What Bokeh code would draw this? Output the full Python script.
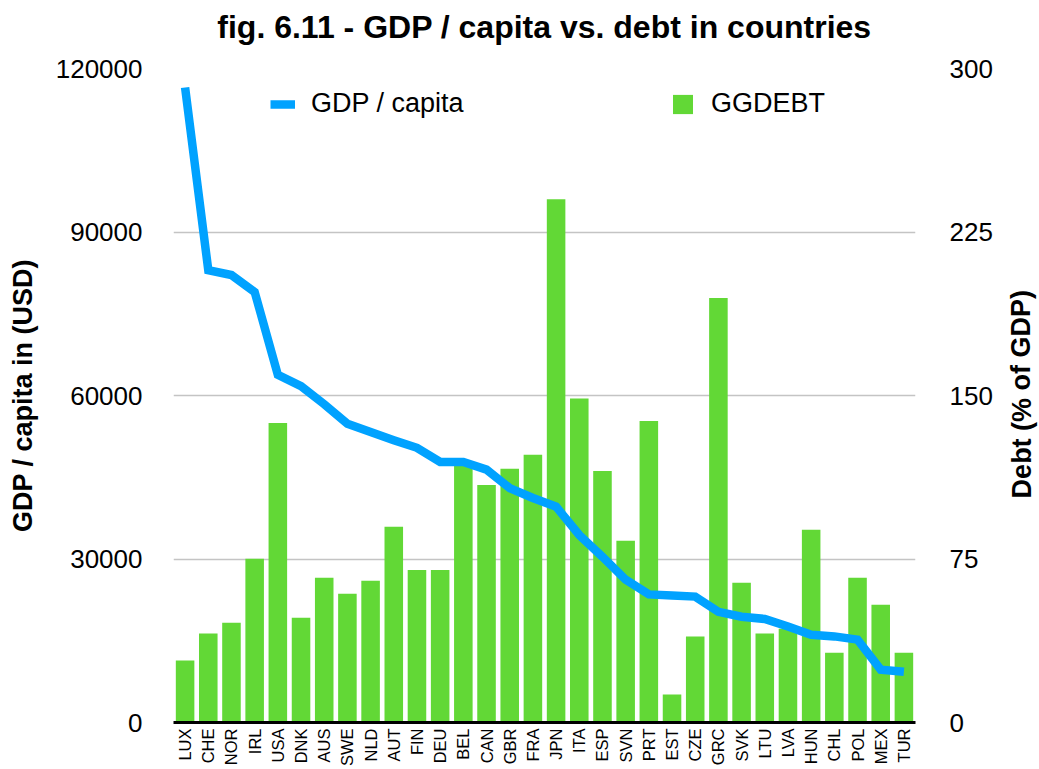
from bokeh.plotting import figure
from bokeh.models import (Range1d, LinearAxis, FixedTicker, Legend, LegendItem,
                          ColumnDataSource, FactorRange, BasicTickFormatter, Label)
from bokeh.layouts import column, row
from bokeh.embed import file_html
from bokeh.resources import INLINE

countries = ["LUX", "CHE", "NOR", "IRL", "USA", "DNK", "AUS", "SWE", "NLD", "AUT",
             "FIN", "DEU", "BEL", "CAN", "GBR", "FRA", "JPN", "ITA", "ESP", "SVN",
             "PRT", "EST", "CZE", "GRC", "SVK", "LTU", "LVA", "HUN", "CHL", "POL",
             "MEX", "TUR"]
gdp_per_capita = [116500, 83000, 82100, 79000, 63800, 61700, 58400, 54800, 53300, 51800,
                  50400, 47800, 47800, 46400, 43000, 41200, 39600, 34400, 30400, 26200,
                  23500, 23300, 23100, 20300, 19400, 19000, 17600, 16100, 15800, 15200,
                  9700, 9300]
debt = [28.4, 40.8, 45.8, 75.1, 137.4, 48.1, 66.4, 59.1, 65.0, 89.8,
        70.0, 70.0, 118.0, 109.0, 116.4, 122.8, 240.0, 148.6, 115.4, 83.4,
        138.3, 12.8, 39.4, 194.7, 64.1, 40.8, 43.0, 88.4, 32.0, 66.4,
        54.0, 32.0]
left_ticks = [0, 30000, 60000, 90000, 120000]
right_ticks = [0, 75, 150, 225, 300]
title_text = "fig. 6.11 - GDP / capita vs. debt in countries"
left_label = "GDP / capita in (USD)"
right_label = "Debt (% of GDP)"

FONT = "Liberation Sans"
GREEN = "#62d836"
BLUE = "#00a2ff"

W, H = 1039, 769
HEADER_H = 46
SIDE_W = 40

src = ColumnDataSource(dict(country=countries, gdp=gdp_per_capita, debt=debt))


def blank_fig(w, h):
    f = figure(width=w, height=h, x_range=Range1d(0, w), y_range=Range1d(0, h),
               output_backend="svg", toolbar_location=None,
               x_axis_location=None, y_axis_location=None,
               min_border=0, min_border_left=0, min_border_right=0,
               min_border_top=0, min_border_bottom=0)
    f.outline_line_color = None
    f.xgrid.grid_line_color = None
    f.ygrid.grid_line_color = None
    f.title = None
    return f


# ---- header with the chart title
header = blank_fig(W, HEADER_H)
header.add_layout(Label(x=544, y=20, text=title_text,
                        text_align="center", text_baseline="alphabetic",
                        text_font=FONT, text_font_style="bold", text_font_size="32px",
                        text_color="black"))

# ---- main chart
MAIN_H = H - HEADER_H
p = figure(width=W - SIDE_W, height=MAIN_H,
           x_range=FactorRange(*countries, range_padding=0),
           y_range=Range1d(0, 120000), output_backend="svg", toolbar_location=None,
           min_border_left=173, min_border_right=(W - SIDE_W) - 915,
           min_border_top=68 - HEADER_H, min_border_bottom=46)
p.title = None
p.extra_y_ranges = {"debt": Range1d(0, 300)}
p.outline_line_color = None
p.background_fill_color = "white"
p.border_fill_color = "white"

bars = p.vbar(x="country", top="debt", width=0.8, source=src, y_range_name="debt",
              fill_color=GREEN, line_color=None)
line = p.line(x="country", y="gdp", source=src, line_color=BLUE, line_width=8.5,
              line_join="miter")

p.xgrid.grid_line_color = None
p.ygrid.ticker = FixedTicker(ticks=left_ticks)
p.ygrid.grid_line_color = "#c4c4c4"
p.ygrid.grid_line_width = 1.3

ya = p.yaxis[0]
ya.ticker = FixedTicker(ticks=left_ticks)
ya.formatter = BasicTickFormatter(use_scientific=False)
ya.axis_line_color = None
ya.major_tick_line_color = None
ya.minor_tick_line_color = None
ya.major_label_standoff = 25
ya.major_label_text_font = FONT
ya.major_label_text_font_size = "26px"
ya.major_label_text_color = "black"
ya.axis_label = left_label
ya.axis_label_text_font = FONT
ya.axis_label_text_font_style = "bold"
ya.axis_label_text_font_size = "27px"
ya.axis_label_text_color = "black"
ya.axis_label_standoff = 15

ra = LinearAxis(y_range_name="debt", ticker=FixedTicker(ticks=right_ticks))
ra.axis_line_color = None
ra.major_tick_line_color = None
ra.minor_tick_line_color = None
ra.major_label_standoff = 28
ra.major_label_text_font = FONT
ra.major_label_text_font_size = "26px"
ra.major_label_text_color = "black"
p.add_layout(ra, "right")

xa = p.xaxis[0]
xa.axis_line_color = "black"
xa.axis_line_width = 3
xa.major_tick_line_color = None
xa.minor_tick_line_color = None
xa.major_label_orientation = 1.5708
xa.major_label_standoff = 0
xa.major_label_text_font = FONT
xa.major_label_text_font_size = "16.5px"
xa.major_label_text_color = "black"

legend = Legend(items=[LegendItem(label="GDP / capita", renderers=[line]),
                       LegendItem(label="GGDEBT", renderers=[bars])],
                orientation="horizontal", location=(97, 603),
                glyph_width=25, glyph_height=24, label_standoff=16,
                label_width=359, spacing=0, padding=0, margin=0,
                border_line_alpha=0, background_fill_alpha=0,
                label_text_font=FONT, label_text_font_size="27px",
                label_text_color="black")
p.add_layout(legend, "center")

# ---- right strip with the secondary axis title (reads bottom to top)
side = blank_fig(SIDE_W, MAIN_H)
side.add_layout(Label(x=22, y=MAIN_H - (395 - HEADER_H) - 11, text=right_label,
                      angle=1.5708, text_align="center", text_baseline="alphabetic",
                      text_font=FONT, text_font_style="bold", text_font_size="27px",
                      text_color="black"))

layout = column(header, row(p, side, spacing=0), spacing=0)
open("out.html", "w").write(file_html(layout, INLINE))
